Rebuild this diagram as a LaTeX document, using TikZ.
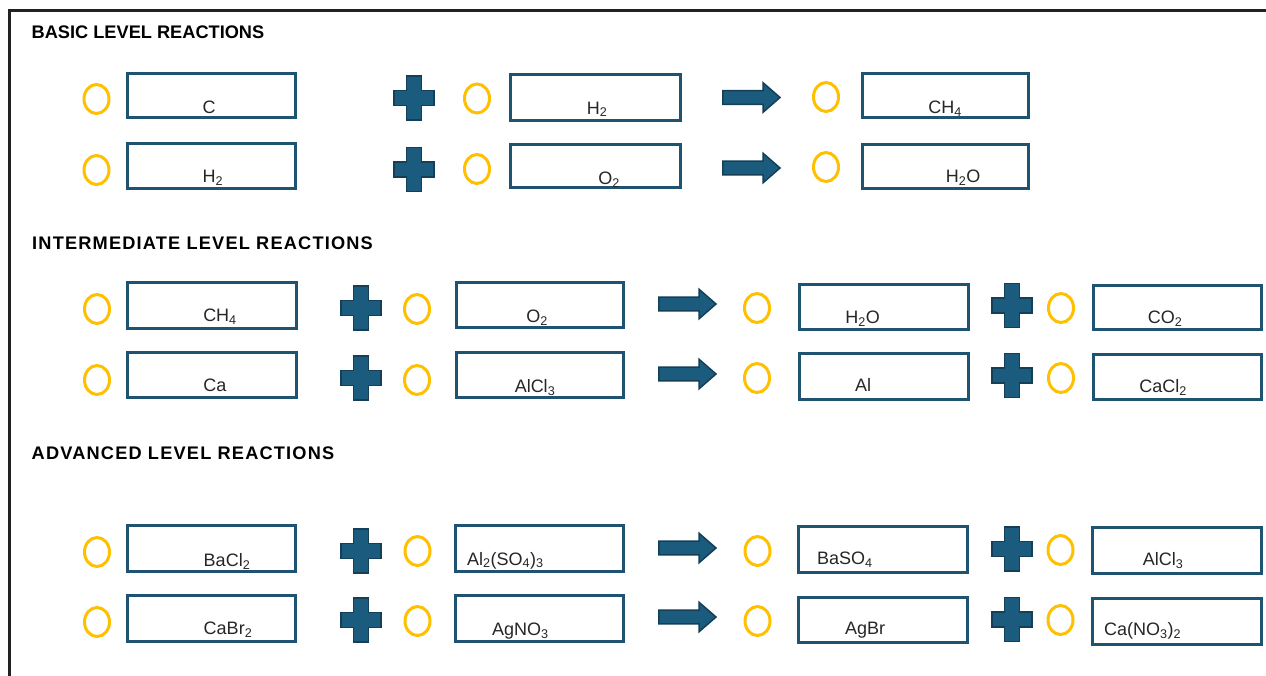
\documentclass[tikz,border=0pt]{standalone}
\usepackage{fontspec}
\setmainfont{Liberation Sans}
\newfontfamily\headsp{Liberation Sans}[LetterSpace=6.5]
\usetikzlibrary{shapes.geometric}
\definecolor{boxcol}{HTML}{1E5471}
\definecolor{symfill}{HTML}{1B5C7E}
\definecolor{symline}{HTML}{143F57}
\definecolor{ringcol}{HTML}{FFC000}
\definecolor{txtcol}{HTML}{262626}
\definecolor{framecol}{HTML}{222222}
\tikzset{
  rbox/.style={draw=boxcol, line width=3pt, rectangle, inner sep=0pt, fill=white},
  ring/.style={draw=ringcol, line width=3pt, ellipse, inner sep=0pt, minimum width=25pt, minimum height=29pt},
  lbl/.style={text=txtcol, font=\fontsize{18}{20}\selectfont, inner sep=0pt},
  head/.style={text=black, font=\fontsize{18.2}{20}\selectfont\bfseries, inner sep=0pt, anchor=base west},
  headx/.style={text=black, font=\fontsize{18.2}{20}\selectfont\headsp\bfseries, inner sep=0pt, anchor=base west},
  symstyle/.style={fill=symfill, draw=symline, line width=1.5pt, line join=miter},
  plussym/.pic={\draw[symstyle] (-7.6,-22.2) -- (7.6,-22.2) -- (7.6,-7.6) -- (20.2,-7.6) -- (20.2,7.6) -- (7.6,7.6) -- (7.6,22.2) -- (-7.6,22.2) -- (-7.6,7.6) -- (-20.2,7.6) -- (-20.2,-7.6) -- (-7.6,-7.6) -- cycle;},
  arrowsym/.pic={\draw[symstyle] (0.75,-6.8) -- (41,-6.8) -- (41,-14.8) -- (58,0) -- (41,14.8) -- (41,6.8) -- (0.75,6.8) -- cycle;},
  frame/.style={draw=framecol, line width=2.5pt}
}
\newcommand\mkbox[5]{%
  \pgfmathsetmacro\mbw{#4-#2-3}\pgfmathsetmacro\mbh{#5-#3-3}%
  \node[rbox, minimum width=\mbw pt, minimum height=\mbh pt] (#1) at ({(#2+#4)/2},{(#3+#5)/2}) {};}
\begin{document}
\begin{tikzpicture}[x=1pt,y=-1pt]
\useasboundingbox (0,0) rectangle (1266,675);
\clip (0,0) rectangle (1266,675);
\fill[white] (0,0) rectangle (1266,675);
\draw[frame] (9.5,690) -- (9.5,10.5) -- (1280,10.5);

% headings
\node[head] (h1) at (31.5,38) {BASIC LEVEL REACTIONS};
\node[headx] (h2) at (32,249) {INTERMEDIATE LEVEL REACTIONS};
\node[headx] (h3) at (31.5,459) {ADVANCED LEVEL REACTIONS};

% ---------- basic ----------
\node[ring] (b1c1) at (96.5,99) {};
\mkbox{b1b1}{126}{72}{297}{119}
\pic at (414,98) {plussym};
\node[ring] (b1c2) at (477,98.5) {};
\mkbox{b1b2}{509}{73}{682}{122}
\pic at (722,97.5) {arrowsym};
\node[ring] (b1c3) at (826,97) {};
\mkbox{b1b3}{861}{72}{1030}{119}
\node[lbl, anchor=base] (tb11) at (209,113.5) {C};
\node[lbl, anchor=base] (tb12) at (597,114) {H\textsubscript{2}};
\node[lbl, anchor=base] (tb13) at (945,113.5) {CH\textsubscript{4}};

\node[ring] (b2c1) at (96.5,170) {};
\mkbox{b2b1}{126}{142}{297}{190}
\pic at (414,169.5) {plussym};
\node[ring] (b2c2) at (477,169) {};
\mkbox{b2b2}{509}{143}{682}{189}
\pic at (722,168) {arrowsym};
\node[ring] (b2c3) at (826,167) {};
\mkbox{b2b3}{861}{143}{1030}{190}
\node[lbl, anchor=base] (tb21) at (213,182.5) {H\textsubscript{2}};
\node[lbl, anchor=base] (tb22) at (609,184.5) {O\textsubscript{2}};
\node[lbl, anchor=base] (tb23) at (963,182.5) {H\textsubscript{2}O};

% ---------- intermediate ----------
\node[ring] (i1c1) at (97,309) {};
\mkbox{i1b1}{126}{281}{298}{330}
\pic at (361,308) {plussym};
\node[ring] (i1c2) at (417,309) {};
\mkbox{i1b2}{455}{281}{625}{329}
\pic at (658,304) {arrowsym};
\node[ring] (i1c3) at (757,308) {};
\mkbox{i1b3}{798}{283}{970}{331}
\pic at (1012,305.5) {plussym};
\node[ring] (i1c4) at (1061,308) {};
\mkbox{i1b4}{1092}{284}{1263}{331}
\node[lbl, anchor=base] (ti11) at (220,321.5) {CH\textsubscript{4}};
\node[lbl, anchor=base] (ti12) at (537,322.5) {O\textsubscript{2}};
\node[lbl, anchor=base] (ti13) at (862.5,323.5) {H\textsubscript{2}O};
\node[lbl, anchor=base] (ti14) at (1165,323.5) {CO\textsubscript{2}};

\node[ring] (i2c1) at (97,380) {};
\mkbox{i2b1}{126}{351}{298}{399}
\pic at (361,378) {plussym};
\node[ring] (i2c2) at (417,380) {};
\mkbox{i2b2}{455}{351}{625}{399}
\pic at (658,374) {arrowsym};
\node[ring] (i2c3) at (757,378) {};
\mkbox{i2b3}{798}{352}{970}{401}
\pic at (1012,375.5) {plussym};
\node[ring] (i2c4) at (1061,378) {};
\mkbox{i2b4}{1092}{353}{1263}{401}
\node[lbl, anchor=base] (ti21) at (215,391.5) {Ca};
\node[lbl, anchor=base] (ti22) at (535,392.5) {AlCl\textsubscript{3}};
\node[lbl, anchor=base] (ti23) at (863,391.5) {Al};
\node[lbl, anchor=base] (ti24) at (1163,392.5) {CaCl\textsubscript{2}};

% ---------- advanced ----------
\node[ring] (a1c1) at (97,552) {};
\mkbox{a1b1}{126}{524}{297}{573}
\pic at (361,551) {plussym};
\node[ring] (a1c2) at (417.5,551) {};
\mkbox{a1b2}{454}{524}{625}{573}
\pic at (658,548) {arrowsym};
\node[ring] (a1c3) at (757.5,551) {};
\mkbox{a1b3}{797}{525}{969}{574}
\pic at (1012,549) {plussym};
\node[ring] (a1c4) at (1060.5,550) {};
\mkbox{a1b4}{1091}{526}{1263}{575}
\node[lbl, anchor=base] (ta11) at (227,566.5) {BaCl\textsubscript{2}};
\node[lbl, anchor=base west] (ta12) at (467,565) {Al\textsubscript{2}(SO\textsubscript{4})\textsubscript{3}};
\node[lbl, anchor=base west] (ta13) at (817,564.5) {BaSO\textsubscript{4}};
\node[lbl, anchor=base] (ta14) at (1163,565.5) {AlCl\textsubscript{3}};

\node[ring] (a2c1) at (97,622) {};
\mkbox{a2b1}{126}{594}{297}{643}
\pic at (361,620) {plussym};
\node[ring] (a2c2) at (417.5,621) {};
\mkbox{a2b2}{454}{594}{625}{643}
\pic at (658,617) {arrowsym};
\node[ring] (a2c3) at (757.5,621) {};
\mkbox{a2b3}{797}{596}{969}{644}
\pic at (1012,619.5) {plussym};
\node[ring] (a2c4) at (1060.5,620) {};
\mkbox{a2b4}{1091}{597}{1263}{646}
\node[lbl, anchor=base] (ta21) at (228,634.5) {CaBr\textsubscript{2}};
\node[lbl, anchor=base west] (ta22) at (492,635.5) {AgNO\textsubscript{3}};
\node[lbl, anchor=base west] (ta23) at (845,634.5) {AgBr};
\node[lbl, anchor=base west] (ta24) at (1104,635.5) {Ca(NO\textsubscript{3})\textsubscript{2}};
\end{tikzpicture}
\end{document}
